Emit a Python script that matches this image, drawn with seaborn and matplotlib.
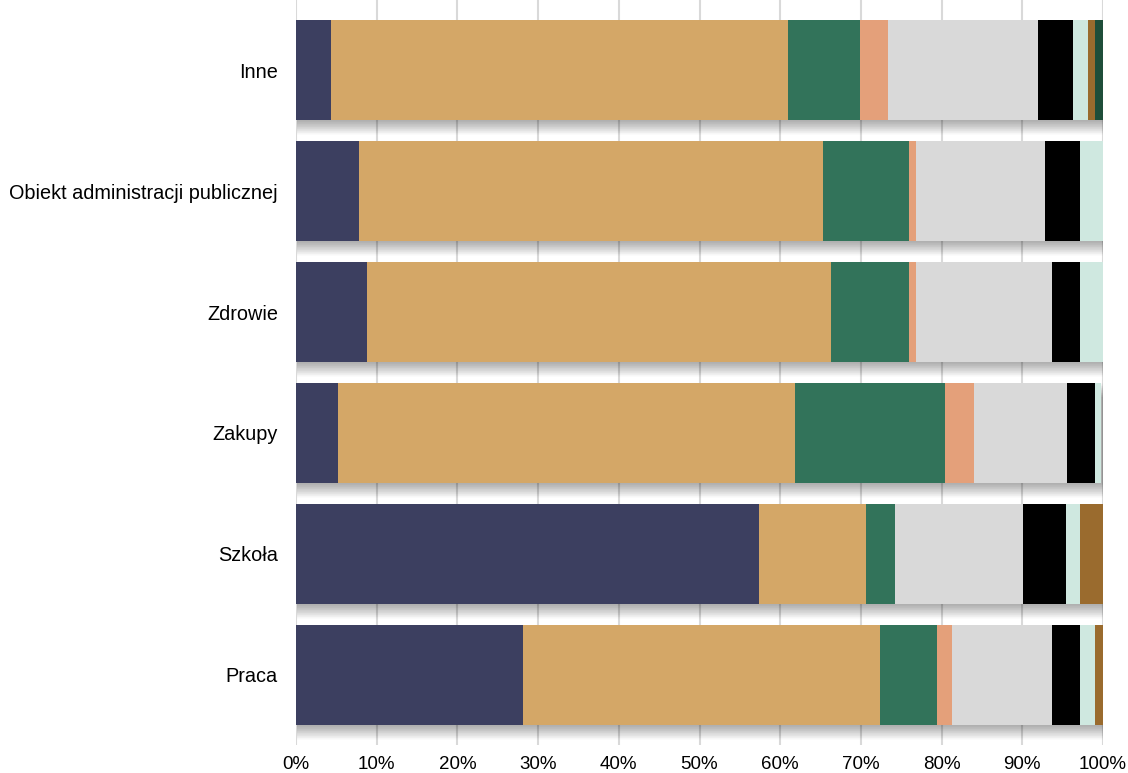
import numpy as np
import pandas as pd
import matplotlib
matplotlib.use("Agg")
import matplotlib.pyplot as plt
import matplotlib.patheffects as pe
from matplotlib.ticker import PercentFormatter
import seaborn as sns

categories = ["Inne", "Obiekt administracji publicznej", "Zdrowie", "Zakupy", "Szkoła", "Praca"]

# udział (%) kolejnych segmentów w każdej kategorii
seg_1 = [4.3, 7.8, 8.8, 5.2, 57.4, 28.1]
seg_2 = [56.7, 57.5, 57.5, 56.6, 13.2, 44.3]
seg_3 = [8.9, 10.7, 9.7, 18.6, 3.6, 7.0]
seg_4 = [3.5, 0.8, 0.8, 3.6, 0.0, 1.9]
seg_5 = [18.5, 16.0, 16.9, 11.5, 15.9, 12.4]
seg_6 = [4.4, 4.4, 3.5, 3.5, 5.3, 3.5]
seg_7 = [1.8, 2.8, 2.8, 0.8, 1.8, 1.8]
seg_8 = [0.9, 0.0, 0.0, 0.0, 2.8, 1.0]
seg_9 = [1.0, 0.0, 0.0, 0.0, 0.0, 0.0]

colors = ["#3C3F60", "#D4A767", "#32735A", "#E4A07A", "#D9D9D9",
          "#000000", "#CFE8E0", "#9A6B2E", "#1F4E3A"]

segments = [seg_1, seg_2, seg_3, seg_4, seg_5, seg_6, seg_7, seg_8, seg_9]
cum = np.cumsum(np.array(segments), axis=0)

sns.set_theme(style="white")
plt.rcParams["font.family"] = ["Liberation Sans", "DejaVu Sans"]

fig = plt.figure(figsize=(11.28, 7.73), dpi=100)
ax = fig.add_axes([296 / 1128, 1 - 745 / 773, (1103 - 296) / 1128, 745 / 773])

# miękki cień pod paskami (kilka warstw)
shadow = [pe.SimplePatchShadow(offset=(1.0, -0.5 * k), shadow_rgbFace="#000000", alpha=0.014)
          for k in range(1, 22)]

# rysujemy od najdłuższej skumulowanej wartości do najkrótszej
for i in range(len(segments) - 1, -1, -1):
    df = pd.DataFrame({"cat": categories, "val": cum[i]})
    sns.barplot(data=df, x="val", y="cat", orient="h", color=colors[i],
                width=0.83, linewidth=0, saturation=1, ax=ax)
    if i == len(segments) - 1:
        for p in ax.patches:
            p.set_path_effects(shadow + [pe.Normal()])

ax.set_xlim(0, 100)
ax.set_ylim(5.579, -0.579)
ax.set_xticks(np.arange(0, 101, 10))
ax.xaxis.set_major_formatter(PercentFormatter(decimals=0))
ax.grid(axis="x", color="#D9D9D9", linewidth=1.5)
ax.set_axisbelow(True)
for s in ax.spines.values():
    s.set_visible(False)
ax.set_xlabel("")
ax.set_ylabel("")
ax.tick_params(axis="both", length=0, colors="#000000")
ax.tick_params(axis="y", pad=13, labelsize=14.3)
ax.tick_params(axis="x", pad=8, labelsize=13.5)

fig.savefig("out.png", dpi=100)
